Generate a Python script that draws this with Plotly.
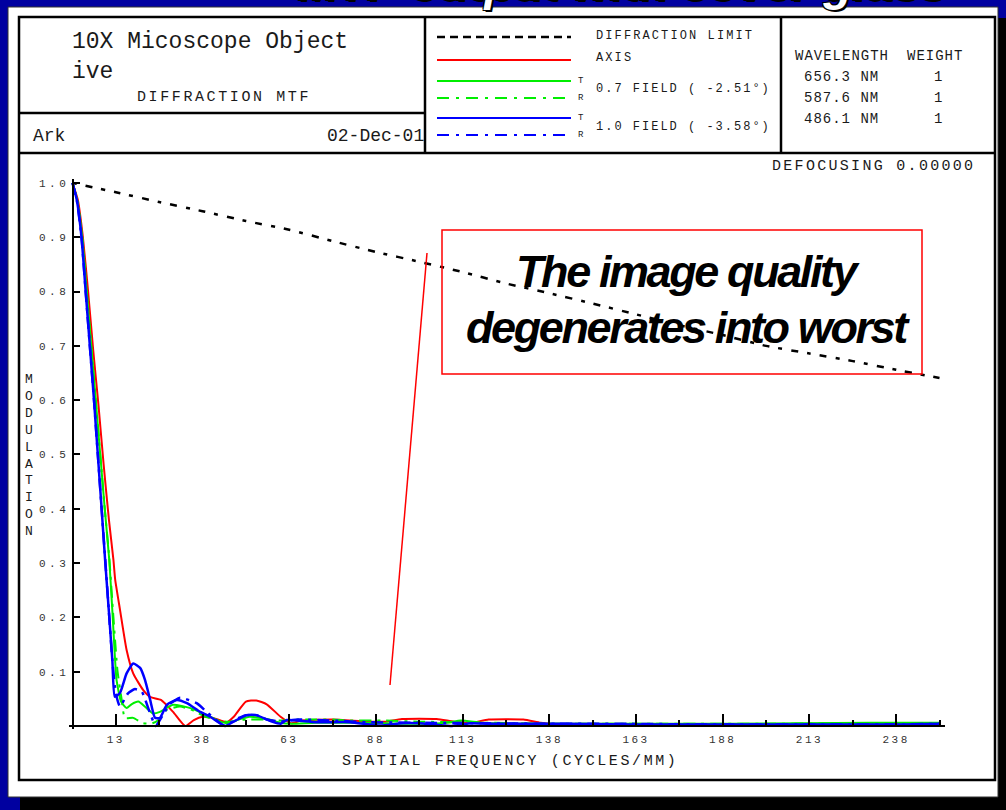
import plotly.graph_objects as go

W, H = 1006, 810

# ---- MTF data: spatial frequency (cycles/mm) vs modulation ----
diff_freq = [0, 12.5, 25, 37.5, 50, 62.5, 75, 87.5, 100, 112.5, 125, 137.5,
             150, 162.5, 175, 187.5, 200, 212.5, 225, 237.5, 250]
diff_mod = [1.000, 0.983, 0.965, 0.948, 0.930, 0.914, 0.893, 0.873, 0.855, 0.836,
            0.815, 0.797, 0.778, 0.758, 0.738, 0.720, 0.700, 0.686, 0.672, 0.656, 0.641]

axis_freq = [0, 1.5, 3, 4.5, 6, 7.5, 9, 10.5, 11.8, 12.3, 13.7, 15.6, 17.5, 20.4,
             22.5, 25.5, 29, 32.5, 35, 37.5, 40.5, 44.5, 46.5, 50, 53, 56, 60, 63,
             66, 75, 85, 90, 95, 105, 110, 115, 120, 130, 135, 140, 160, 180, 200,
             220, 240, 250]
axis_mod = [1.0, 0.97, 0.90, 0.80, 0.69, 0.59, 0.48, 0.38, 0.306, 0.27, 0.214, 0.14,
            0.097, 0.066, 0.053, 0.048, 0.026, 0.0, 0.011, 0.017, 0.015, 0.007, 0.017,
            0.045, 0.047, 0.040, 0.017, 0.005, 0.010, 0.012, 0.008, 0.008, 0.013, 0.013,
            0.008, 0.006, 0.012, 0.012, 0.006, 0.003, 0.003, 0.002, 0.003, 0.003,
            0.004, 0.005]

f07t_freq = [0, 1.3, 2.8, 4.1, 5.4, 6.7, 8.0, 9.3, 10.6, 11.6, 12.7, 14, 15.6, 17,
             19, 21, 23.3, 25.2, 29, 34, 38.7, 42, 44.5, 48, 51, 56, 60, 63, 70, 80,
             90, 100, 108, 112, 118, 130, 150, 170, 190, 210, 230, 250]
f07t_mod = [1.0, 0.97, 0.90, 0.80, 0.70, 0.60, 0.50, 0.40, 0.306, 0.20, 0.085, 0.045,
            0.033, 0.040, 0.045, 0.035, 0.023, 0.026, 0.039, 0.033, 0.020, 0.010,
            0.005, 0.012, 0.017, 0.013, 0.006, 0.004, 0.006, 0.006, 0.005, 0.004,
            0.006, 0.010, 0.006, 0.004, 0.004, 0.004, 0.004, 0.005, 0.006, 0.006]

f07r_freq = [0, 1.3, 2.8, 4.1, 5.4, 6.7, 8.0, 9.3, 10.6, 11.8, 13, 14.2, 15.1, 17.5,
             20.4, 23, 25, 27, 31, 35, 38, 42, 45, 50, 55, 60, 65, 70, 75, 80, 90,
             100, 120, 140, 160, 180, 200, 220, 240, 250]
f07r_mod = [1.0, 0.97, 0.90, 0.80, 0.70, 0.60, 0.50, 0.40, 0.31, 0.20, 0.10, 0.048,
            0.015, 0.015, 0.005, 0.005, 0.012, 0.029, 0.036, 0.028, 0.018, 0.010,
            0.008, 0.012, 0.012, 0.010, 0.012, 0.012, 0.012, 0.010, 0.010, 0.008,
            0.006, 0.004, 0.004, 0.004, 0.004, 0.005, 0.005, 0.005]

f10t_freq = [0, 1.2, 2.6, 3.8, 5.0, 6.2, 7.3, 8.4, 9.4, 10.5, 11.5, 12.2, 13.7, 15.6,
             17.5, 19.5, 20.9, 22.4, 23.8, 25.2, 27.2, 30.1, 33, 36.8, 39.7, 44, 47,
             50.3, 53, 57.5, 60, 61.8, 70, 80, 88.7, 95, 100, 109, 115, 120, 140,
             160, 180, 200, 220, 240, 250]
f10t_mod = [1.0, 0.97, 0.90, 0.80, 0.70, 0.60, 0.50, 0.40, 0.306, 0.21, 0.12, 0.054,
            0.061, 0.097, 0.115, 0.107, 0.085, 0.048, 0.015, 0.015, 0.039, 0.048,
            0.042, 0.026, 0.017, 0.0, 0.010, 0.020, 0.020, 0.008, 0.004, 0.011,
            0.007, 0.007, 0.001, 0.005, 0.005, 0.0, 0.005, 0.004, 0.004, 0.003,
            0.003, 0.003, 0.003, 0.003, 0.004]

f10r_freq = [0, 1.2, 2.6, 3.8, 5.0, 6.2, 7.3, 8.4, 9.4, 10.5, 11.5, 12.5, 13.7, 16,
             18, 20, 22, 24, 26, 28, 31, 35.8, 39, 42, 44, 47, 50, 53, 56, 60, 65,
             75, 85, 100, 120, 140, 160, 180, 200, 220, 240, 250]
f10r_mod = [1.0, 0.97, 0.90, 0.80, 0.70, 0.60, 0.50, 0.40, 0.31, 0.21, 0.12, 0.06,
            0.036, 0.06, 0.068, 0.063, 0.03, 0.0, 0.02, 0.04, 0.052, 0.042, 0.024,
            0.008, 0.0, 0.012, 0.02, 0.02, 0.012, 0.008, 0.012, 0.010, 0.007, 0.006,
            0.005, 0.004, 0.004, 0.003, 0.003, 0.003, 0.003, 0.004]

x_tick_vals = [12.5, 37.5, 62.5, 87.5, 112.5, 137.5, 162.5, 187.5, 212.5, 237.5]
x_tick_text = ["13", "38", "63", "88", "113", "138", "163", "188", "213", "238"]
x_minor_vals = [25, 50, 75, 100, 125, 150, 175, 200, 225, 250]
y_tick_vals = [0.1, 0.2, 0.3, 0.4, 0.5, 0.6, 0.7, 0.8, 0.9, 1.0]
y_tick_text = ["0.1", "0.2", "0.3", "0.4", "0.5", "0.6", "0.7", "0.8", "0.9", "1.0"]

wavelengths = ["656.3 NM", "587.6 NM", "486.1 NM"]
weights = ["1", "1", "1"]

MONO = "Liberation Mono, Courier New, monospace"
INK = "#1a1a1a"


def px(x):
    return x / W


def py(y):
    return 1 - y / H


def spaced(text, sp):
    return f"<span style='letter-spacing:{sp}px'>{text}</span>"


fig = go.Figure()

series = [
    (diff_freq, diff_mod, "black", "4px,9px,7px,9px", 2.5),
    (axis_freq, axis_mod, "#ff0000", "solid", 2),
    (f07t_freq, f07t_mod, "#00ee00", "solid", 2),
    (f07r_freq, f07r_mod, "#00ee00", "12px,6px,3px,6px", 2),
    (f10t_freq, f10t_mod, "#0000ff", "solid", 2.5),
    (f10r_freq, f10r_mod, "#0000ff", "12px,6px,3px,6px", 2.5),
]
for fx, fy, col, dash, w in series:
    fig.add_trace(go.Scatter(
        x=fx, y=fy, mode="lines", showlegend=False, hoverinfo="skip",
        line=dict(color=col, width=w, dash=dash, shape="spline", smoothing=0.5),
    ))

# plot area geometry (pixels): f=0 -> 72.5, f=250 -> 939.5 ; m=0 -> 726, m=1 -> 183
XS = (939.5 - 72.5) / 250
YS = (726 - 183) / 1.0
x_lo, x_hi = -1.0, 251.5
y_lo, y_hi = -0.006, 1.008

tick_font = dict(family=MONO, size=11, color="#333")

fig.update_xaxes(
    range=[x_lo, x_hi],
    domain=[px(72.5 + x_lo * XS), px(72.5 + x_hi * XS)],
    anchor="free", position=py(726),
    showline=True, linecolor="black", linewidth=2,
    showgrid=False, zeroline=False,
    ticks="inside", ticklen=11, tickwidth=2, tickcolor="black",
    tickvals=x_tick_vals,
    ticktext=[spaced(t, 2.5) for t in x_tick_text],
    tickfont=tick_font, ticklabelstandoff=3,
    minor=dict(tickvals=x_minor_vals, ticks="inside", ticklen=5,
               tickwidth=2, tickcolor="black", showgrid=False),
)
fig.update_yaxes(
    range=[y_lo, y_hi],
    domain=[py(726 - y_lo * YS), py(726 - y_hi * YS)],
    anchor="free", position=px(72.5),
    showline=True, linecolor="black", linewidth=2,
    showgrid=False, zeroline=False,
    ticks="inside", ticklen=6, tickwidth=2, tickcolor="black",
    tickvals=y_tick_vals,
    ticktext=[spaced(t, 3.5) for t in y_tick_text],
    tickfont=tick_font,
)

shapes = []
# slide background shadow and white panel
shapes.append(dict(type="rect", xref="paper", yref="paper", layer="below",
                   x0=px(20), x1=px(1006), y0=py(810), y1=py(18),
                   fillcolor="black", line=dict(width=0)))
shapes.append(dict(type="rect", xref="paper", yref="paper", layer="below",
                   x0=px(8), x1=px(998), y0=py(797), y1=py(7),
                   fillcolor="white", line=dict(color="#333", width=1)))
# outer frame and header grid
shapes.append(dict(type="rect", xref="paper", yref="paper",
                   x0=px(19), x1=px(995), y0=py(780), y1=py(17),
                   line=dict(color="black", width=2.5)))
for x0, x1, y in [(19, 995, 153), (19, 425, 113)]:
    shapes.append(dict(type="line", xref="paper", yref="paper",
                       x0=px(x0), x1=px(x1), y0=py(y), y1=py(y),
                       line=dict(color="black", width=2.5)))
for x in [425, 781]:
    shapes.append(dict(type="line", xref="paper", yref="paper",
                       x0=px(x), x1=px(x), y0=py(17), y1=py(153),
                       line=dict(color="black", width=2.5)))
# legend sample lines
legend_lines = [
    (37, "black", "8px,5px", 2.5),
    (60, "#ff0000", "solid", 2),
    (81, "#00ee00", "solid", 2),
    (98, "#00ee00", "12px,7px,3px,7px", 2),
    (118, "#0000ff", "solid", 2),
    (135, "#0000ff", "12px,7px,3px,7px", 2),
]
for y, col, dash, w in legend_lines:
    shapes.append(dict(type="line", xref="paper", yref="paper",
                       x0=px(437), x1=px(571), y0=py(y), y1=py(y),
                       line=dict(color=col, width=w, dash=dash)))
# callout box with pointer
shapes.append(dict(type="rect", xref="paper", yref="paper",
                   x0=px(442), x1=px(922), y0=py(374), y1=py(230),
                   line=dict(color="#ff0000", width=1.5)))
shapes.append(dict(type="line", xref="paper", yref="paper",
                   x0=px(390), x1=px(427), y0=py(685), y1=py(253),
                   line=dict(color="#ff0000", width=1.5)))

annotations = []


def ann(x, y, text, size, xanchor="left", color=INK, family=MONO):
    annotations.append(dict(
        x=px(x), y=py(y), xref="paper", yref="paper", text=text,
        showarrow=False, xanchor=xanchor, yanchor="middle",
        font=dict(family=family, size=size, color=color),
    ))


ann(70, 42, "10X Micoscope Object", 23)
ann(70, 72, "ive", 23)
ann(224, 97, spaced("DIFFRACTION MTF", 2.6), 15, "center")
ann(31, 136, "Ark", 18)
ann(426, 136, "02-Dec-01", 18, "right")

ann(594, 36, spaced("DIFFRACTION LIMIT", 2.1), 12)
ann(594, 58, spaced("AXIS", 2.1), 12)
ann(594, 89, spaced("0.7 FIELD ( -2.51°)", 2.0), 12)
ann(594, 127, spaced("1.0 FIELD ( -3.58°)", 2.0), 12)
for y, t in [(81, "T"), (98, "R"), (118, "T"), (135, "R")]:
    ann(576, y, t, 9)

ann(793, 56, spaced("WAVELENGTH", 1.0), 14)
ann(905, 56, spaced("WEIGHT", 1.0), 14)
for i, (wl, wt) in enumerate(zip(wavelengths, weights)):
    ann(802, 77 + 21 * i, spaced(wl, 1.0), 14)
    ann(938, 77 + 21 * i, wt, 14, "center")

ann(977, 166, spaced("DEFOCUSING 0.00000", 2.3), 15, "right")
ann(510, 761, spaced("SPATIAL FREQUENCY (CYCLES/MM)", 2.6), 15, "center")
ann(29, 455, "<br>".join("MODULATION"), 13, "center")

# callout text: bold italic, tightened to a narrow setting
for y, t in [(271, "The image quality"), (327, "degenerates into worst")]:
    annotations.append(dict(
        x=px(688), y=py(y), xref="paper", yref="paper",
        text=spaced(t, -2.4), showarrow=False,
        xanchor="center", yanchor="middle",
        font=dict(family="Liberation Sans, Arial, sans-serif", size=45,
                  color="black", weight="bold", style="italic"),
    ))

# slide title running off the top edge
annotations.append(dict(
    x=px(622), y=py(12), xref="paper", yref="paper",
    text="MTF output with cover glass", showarrow=False,
    xanchor="center", yanchor="bottom",
    font=dict(family="Liberation Sans, Arial, sans-serif", size=48, color="white",
              weight="bold", style="italic",
              shadow="2px 2px 0px black, -1px -1px 0 black, 1px -1px 0 black, "
                     "-1px 1px 0 black, 1px 1px 0 black"),
))

fig.update_layout(
    width=W, height=H,
    margin=dict(l=0, r=0, t=0, b=0),
    paper_bgcolor="#0000a0",
    plot_bgcolor="rgba(0,0,0,0)",
    shapes=shapes,
    annotations=annotations,
    showlegend=False,
)

fig.write_html("out.html")
